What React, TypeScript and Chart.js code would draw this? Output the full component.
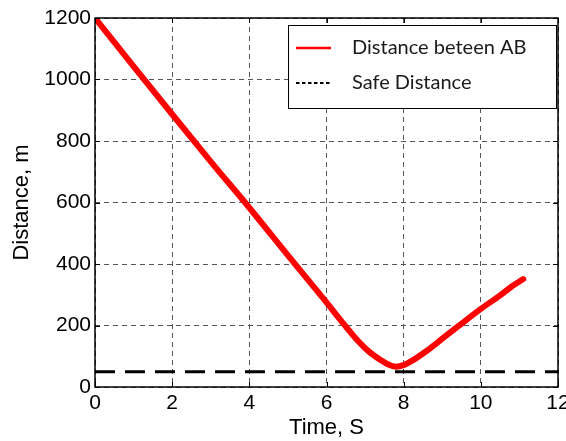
import React, { useEffect, useRef } from "react";
import { Chart, registerables } from "chart.js";

Chart.register(...registerables);

// Time samples (s) and the separation between A and B (m)
const timeS = [0, 1, 2, 3, 4, 5, 6, 6.4, 6.8, 7.1, 7.4, 7.6, 7.8, 8.0, 8.2, 8.6, 9.0, 9.4, 10.0, 10.5, 10.8, 11.1];
const distanceM = [1200, 1043, 887, 733, 583, 428, 275, 212, 152, 115, 88, 73, 66, 71, 84, 118, 157, 196, 254, 298, 327, 351];

// Safe distance threshold, drawn across the full time range
const safeTimeS = [0, 12];
const safeDistanceM = [50, 50];

const seriesLabels = ["Distance beteen AB", "Safe Distance"];

const xTicks = [0, 2, 4, 6, 8, 10, 12];
const yTicks = [0, 200, 400, 600, 800, 1000, 1200];

const tickFont = "Liberation Sans, Arial, sans-serif";
const legendFont = "Lato, 'Open Sans', sans-serif";

// Box frame, inward tick marks and the boxed legend inside the plot
const framePlugin = {
  id: "frameAndLegend",
  afterDraw(chart: any) {
    const { ctx, chartArea } = chart;
    const { left, right, top, bottom } = chartArea;
    const xs = chart.scales.x;
    const ys = chart.scales.y;
    ctx.save();
    ctx.strokeStyle = "#000";
    ctx.lineWidth = 1.5;
    ctx.setLineDash([]);
    ctx.strokeRect(left, top, right - left, bottom - top);

    ctx.lineWidth = 1;
    const t = 5;
    ctx.beginPath();
    for (const v of xTicks) {
      const px = Math.round(xs.getPixelForValue(v)) + 0.5;
      ctx.moveTo(px, bottom);
      ctx.lineTo(px, bottom - t);
      ctx.moveTo(px, top);
      ctx.lineTo(px, top + t);
    }
    for (const v of yTicks) {
      const py = Math.round(ys.getPixelForValue(v)) + 0.5;
      ctx.moveTo(left, py);
      ctx.lineTo(left + t, py);
      ctx.moveTo(right, py);
      ctx.lineTo(right - t, py);
    }
    ctx.stroke();

    // legend box
    const bx = 288, by = 25, bw = right - 2 - bx, bh = 83;
    ctx.fillStyle = "#fff";
    ctx.fillRect(bx, by, bw, bh);
    ctx.strokeStyle = "#000";
    ctx.lineWidth = 1;
    ctx.strokeRect(bx + 0.5, by + 0.5, bw, bh);

    const rows = [by + 23, by + 58];
    ctx.lineWidth = 2.5;
    ctx.strokeStyle = "#ff0000";
    ctx.beginPath();
    ctx.moveTo(296, rows[0]);
    ctx.lineTo(331, rows[0]);
    ctx.stroke();

    ctx.strokeStyle = "#000";
    ctx.lineWidth = 2;
    ctx.setLineDash([3.5, 2.5]);
    ctx.beginPath();
    ctx.moveTo(296, rows[1]);
    ctx.lineTo(331, rows[1]);
    ctx.stroke();
    ctx.setLineDash([]);

    ctx.fillStyle = "#1a1a1a";
    ctx.font = `20px ${legendFont}`;
    ctx.textBaseline = "middle";
    ctx.textAlign = "left";
    ctx.fillText(seriesLabels[0], 352, rows[0]);
    ctx.fillText(seriesLabels[1], 352, rows[1]);
    ctx.restore();
  },
};

export default function App() {
  const canvasRef = useRef<HTMLCanvasElement | null>(null);

  useEffect(() => {
    document.body.style.margin = "0";
    const canvas = canvasRef.current;
    if (!canvas) return;

    const chart = new Chart(canvas, {
      type: "line",
      data: {
        datasets: [
          {
            label: seriesLabels[0],
            data: timeS.map((t, i) => ({ x: t, y: distanceM[i] })),
            borderColor: "#ff0000",
            borderWidth: 6,
            pointRadius: 0,
            cubicInterpolationMode: "monotone",
            borderCapStyle: "round",
            borderJoinStyle: "round",
            order: 1,
          },
          {
            label: seriesLabels[1],
            data: safeTimeS.map((t, i) => ({ x: t, y: safeDistanceM[i] })),
            borderColor: "#000",
            borderWidth: 3,
            borderDash: [20, 10],
            pointRadius: 0,
            order: 2,
          },
        ],
      },
      options: {
        responsive: false,
        animation: false,
        events: [],
        layout: { padding: { left: 0, top: 18, right: 8, bottom: 0 } },
        plugins: {
          legend: { display: false },
          tooltip: { enabled: false },
        },
        scales: {
          x: {
            type: "linear",
            min: 0,
            max: 12,
            afterBuildTicks: (s: any) => {
              s.ticks = xTicks.map((v) => ({ value: v }));
            },
            afterFit: (s: any) => {
              s.height = 54;
              s.paddingLeft = 0;
              s.paddingRight = 0;
            },
            ticks: {
              color: "#000",
              padding: 4,
              font: { family: tickFont, size: 21 },
              maxRotation: 0,
              callback: (v: any) => String(v),
            },
            grid: { color: "#555", lineWidth: 1, drawTicks: false },
            border: { display: false, dash: [5, 4] },
            title: {
              display: true,
              text: "Time, S",
              color: "#000",
              font: { family: tickFont, size: 22 },
              padding: { top: 0, bottom: 0 },
            },
          },
          y: {
            type: "linear",
            min: 0,
            max: 1200,
            afterBuildTicks: (s: any) => {
              s.ticks = yTicks.map((v) => ({ value: v }));
            },
            afterFit: (s: any) => {
              s.width = 95;
              s.paddingTop = 0;
              s.paddingBottom = 0;
            },
            ticks: {
              color: "#000",
              padding: 4,
              font: { family: tickFont, size: 21 },
              callback: (v: any) => String(v),
            },
            grid: { color: "#555", lineWidth: 1, drawTicks: false },
            border: { display: false, dash: [5, 4] },
            title: {
              display: true,
              text: "Distance, m",
              color: "#000",
              font: { family: tickFont, size: 22 },
              padding: { top: 9, bottom: 0 },
            },
          },
        },
      },
      plugins: [framePlugin],
    });

    return () => chart.destroy();
  }, []);

  return (
    <div style={{ width: 566, height: 441 }}>
      <canvas ref={canvasRef} width={566} height={441} style={{ display: "block" }} />
    </div>
  );
}
